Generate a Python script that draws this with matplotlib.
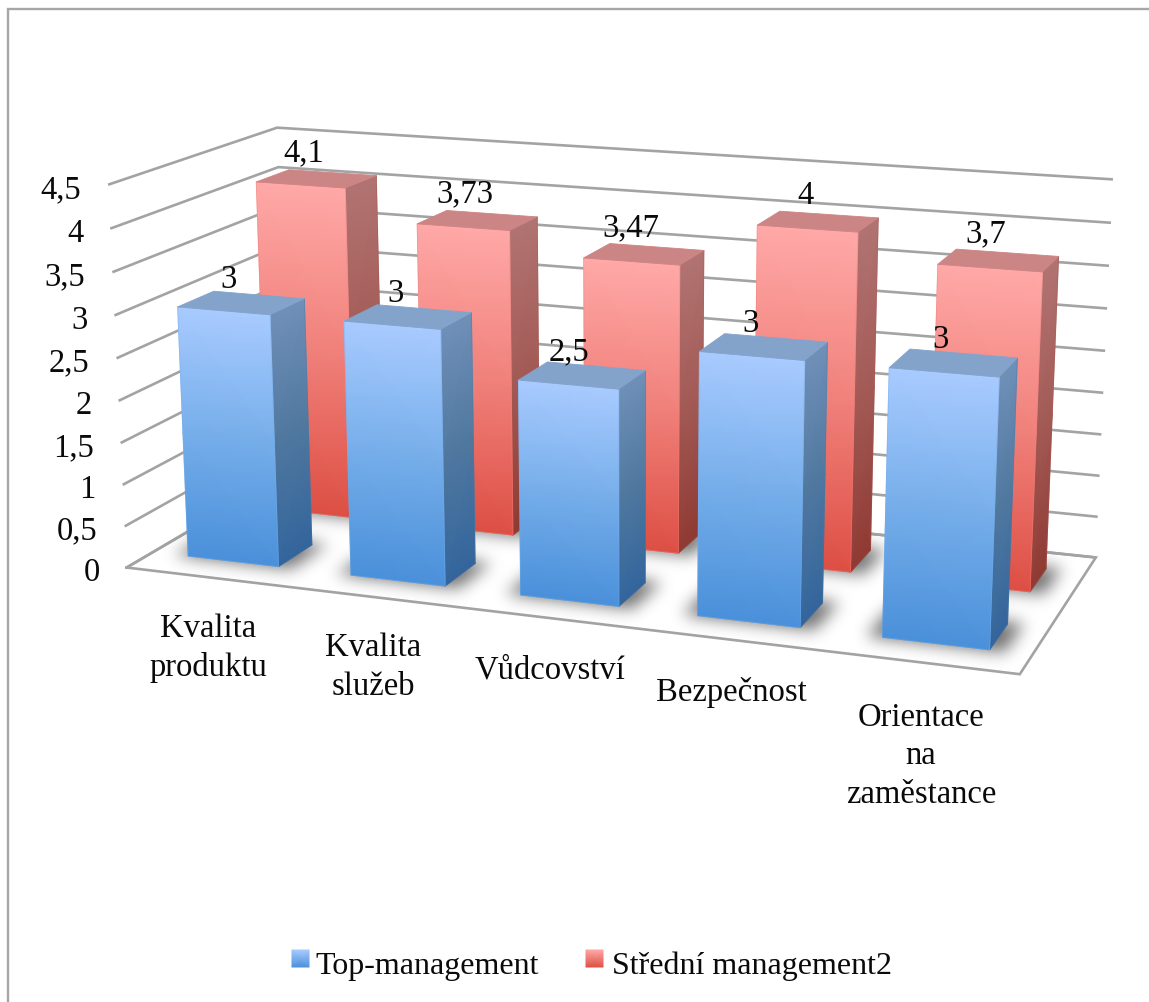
import numpy as np
import matplotlib
matplotlib.use("Agg")
import matplotlib.pyplot as plt
from matplotlib.colors import LinearSegmentedColormap
from matplotlib.path import Path
from matplotlib.patches import Polygon

# Chart data
categories = ["Kvalita\nproduktu", "Kvalita\nslužeb", "Vůdcovství", "Bezpečnost", "Orientace\nna\nzaměstance"]
top_management = [3, 3, 2.5, 3, 3]
stredni_management = [4.1, 3.73, 3.47, 4, 3.7]
top_labels = ["3", "3", "2,5", "3", "3"]
stredni_labels = ["4,1", "3,73", "3,47", "4", "3,7"]
legend_names = ["Top-management", "Střední management2"]
tick_values = [0, 0.5, 1, 1.5, 2, 2.5, 3, 3.5, 4, 4.5]
tick_labels = ["0", "0,5", "1", "1,5", "2", "2,5", "3", "3,5", "4", "4,5"]

W, H = 1149, 1003
GRID = "#a3a3a3"
FONT = "Liberation Serif"
TEXT_SIZE = 23.5

# Camera calibration: (category pos, depth, value) -> pixel
world = np.array([
    [0, 0, 0], [1, 0, 0], [1, 1, 0], [0, 1, 0],
    [0, 0, 4.5], [0, 1, 4.5], [1, 1, 4.5],
    [0, 0, 3], [1, 1, 3], [1, 1, 1.5], [0, 1, 4],
], dtype=float)
pixel = np.array([
    [127, 567], [1020, 676], [1096, 558], [288, 475],
    [108, 186], [277, 128], [1113, 181],
    [114, 317], [1107, 309], [1101, 435], [279, 168],
], dtype=float)

rows = []
rhs = []
for (x, d, z), (u, v) in zip(world, pixel):
    rows.append([x, d, z, 1, 0, 0, 0, 0, -u * x, -u * d, -u * z])
    rhs.append(u)
    rows.append([0, 0, 0, 0, x, d, z, 1, -v * x, -v * d, -v * z])
    rhs.append(v)
sol = np.linalg.lstsq(np.array(rows), np.array(rhs), rcond=None)[0]
P = np.append(sol, 1).reshape(3, 4)


def project(x, d, z):
    x, d, z = np.broadcast_arrays(x, d, z)
    w = P[2, 0] * x + P[2, 1] * d + P[2, 2] * z + P[2, 3]
    u = (P[0, 0] * x + P[0, 1] * d + P[0, 2] * z + P[0, 3]) / w
    v = (P[1, 0] * x + P[1, 1] * d + P[1, 2] * z + P[1, 3]) / w
    return u, v


def ramp(*colors):
    return LinearSegmentedColormap.from_list("ramp", colors, N=256)


# t = 0 at the bar foot, t = 1 at its top
blue_front = ramp("#4a90da", "#76aeea", "#a9cbff")
blue_side = ramp("#33659c", "#50789f", "#7090b8")
blue_top = "#84a3cb"
red_front = ramp("#dd4f44", "#f0807a", "#ffa9a8")
red_side = ramp("#8f3a33", "#a35a55", "#b17472")
red_top = "#cc8585"

fig = plt.figure(figsize=(W / 100, H / 100), dpi=100)
ax = fig.add_axes([0, 0, 1, 1])
ax.set_xlim(0, W)
ax.set_ylim(H, 0)
ax.axis("off")

# Outer frame (top and left only)
ax.plot([8, 8, W], [H, 10, 10], color="#a6a6a6", lw=1.7, solid_joinstyle="miter")

# Walls and floor
for val, lab in zip(tick_values, tick_labels):
    u, v = project([0, 0, 1], [0, 1, 1], val)
    ax.plot(u, v, color=GRID, lw=1.9, solid_capstyle="butt", zorder=1)
    ax.text(u[0] - 27, v[0] + 4, lab, ha="right", va="center", fontsize=TEXT_SIZE, family=FONT, color="#0a0a0a")
u, v = project([0, 1, 1, 0, 0], [0, 0, 1, 1, 0], 0)
ax.plot(u, v, color=GRID, lw=1.9, solid_joinstyle="miter", zorder=1)

# Bar footprint layout
n = len(categories)
bar_w = 0.56 / n
depths = [(0.15, 0.36), (0.64, 0.85)]
series = [
    (stredni_management, stredni_labels, depths[1], red_front, red_side, red_top, 27),
    (top_management, top_labels, depths[0], blue_front, blue_side, blue_top, 24),
]


def footprint(i, d0, d1):
    x0 = (i + 0.5) / n - bar_w / 2
    x1 = x0 + bar_w
    return x0, x1, d0, d1


# Soft contact shadows on the floor
yy, xx = np.mgrid[0:H, 0:W]
pts = np.column_stack([xx.ravel() + 0.5, yy.ravel() + 0.5])
shadow = np.zeros((H, W))
for vals, _, (d0, d1), *_ in series:
    for i in range(n):
        x0, x1, a, b = footprint(i, d0, d1)
        u, v = project([x0 - 0.016, x1 + 0.016, x1 + 0.016, x0 - 0.016], [a - 0.008, a - 0.008, b + 0.02, b + 0.02], 0)
        path = Path(np.column_stack([u, v]))
        shadow = np.maximum(shadow, path.contains_points(pts).reshape(H, W).astype(float))
kernel = np.exp(-0.5 * (np.arange(-24, 25) / 8.0) ** 2)
kernel /= kernel.sum()
shadow = np.apply_along_axis(lambda r: np.convolve(r, kernel, mode="same"), 0, shadow)
shadow = np.apply_along_axis(lambda r: np.convolve(r, kernel, mode="same"), 1, shadow)
rgba = np.zeros((H, W, 4))
rgba[..., 3] = np.clip(shadow * 0.56, 0, 1)
ax.imshow(rgba, extent=(0, W, H, 0), zorder=2, interpolation="bilinear", aspect="auto")
ax.set_xlim(0, W)
ax.set_ylim(H, 0)


def face(xa, da, xb, db, value, cmap, zorder):
    # one vertical side of a bar, shaded along its height
    zs = np.linspace(0, value, 3)
    X, Y = project(np.array([[xa, xb]]), np.array([[da, db]]), zs[:, None])
    C = np.tile((zs / value)[:, None], (1, 2))
    ax.pcolormesh(X, Y, C, cmap=cmap, vmin=0, vmax=1, shading="gouraud", zorder=zorder)
    u, v = project([xa, xb, xb, xa], [da, db, db, da], [0, 0, value, value])
    ax.add_patch(Polygon(np.column_stack([u, v]), closed=True, fill=False, ec=cmap(0.5), lw=0.5, alpha=0.5, zorder=zorder))


z = 3
for vals, labs, (d0, d1), front, side, top, lift in series:
    for i, val in enumerate(vals):
        x0, x1, a, b = footprint(i, d0, d1)
        face(x1, a, x1, b, val, side, z)
        face(x0, a, x1, a, val, front, z)
        u, v = project([x0, x1, x1, x0], [a, a, b, b], val)
        ax.add_patch(Polygon(np.column_stack([u, v]), closed=True, fc=top, ec=top, lw=0.6, zorder=z))
        cu, cv = project((x0 + x1) / 2, (a + b) / 2, val)
        ax.text(cu - 13, cv - lift, labs[i], ha="center", va="center", fontsize=TEXT_SIZE, family=FONT, color="#0a0a0a", zorder=z + 1)
    z += 2

# Category labels
cat_xy = [(208, 648), (373, 667), (550, 670), (731, 693), (921, 756)]
for name, (cx, cy) in zip(categories, cat_xy):
    ax.text(cx, cy, name, ha="center", va="center", fontsize=TEXT_SIZE, family=FONT, color="#0a0a0a", linespacing=1.35)

# Legend
legend_pos = [(292, 315), (586, 612)]
for name, (sx, tx), cmap in zip(legend_names, legend_pos, [blue_front, red_front]):
    X, Y = np.meshgrid([sx, sx + 17], [968, 951])
    ax.pcolormesh(X, Y, np.array([[0, 0], [1, 1]]), cmap=cmap, vmin=0, vmax=1, shading="gouraud")
    ax.text(tx, 974, name, ha="left", va="baseline", fontsize=23, family=FONT, color="#0a0a0a")

fig.savefig("out.png", dpi=100)
